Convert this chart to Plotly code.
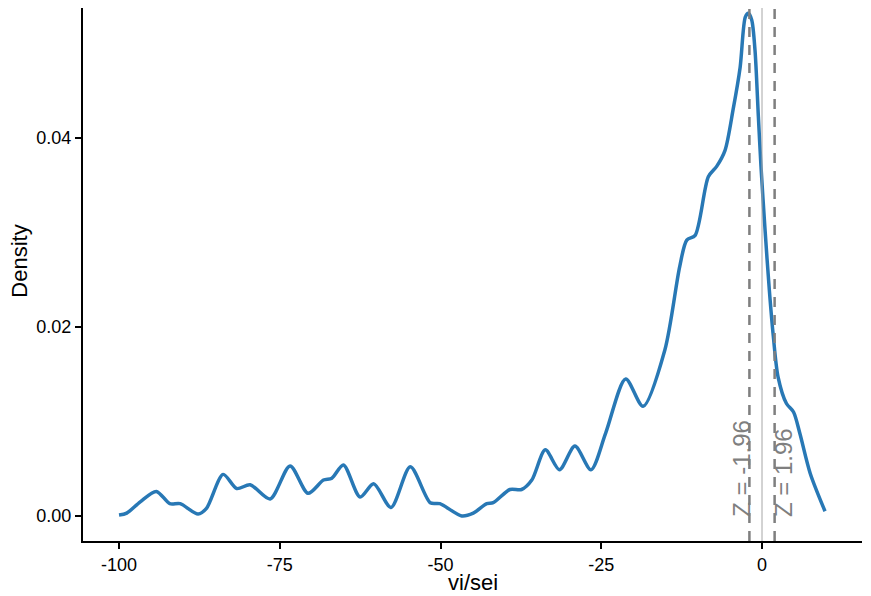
import plotly.graph_objects as go

# density curve of vi/sei
vi_sei = [-100, -98.8, -96.7, -94.2, -92.1, -90.5, -87.7, -86.4, -83.8, -81.7,
          -79.6, -76.5, -73.4, -70.6, -68.2, -66.9, -65.1, -62.5, -60.4, -57.7,
          -54.7, -51.6, -50.1, -46.7, -44.9, -42.8, -41.8, -39.2, -37.4, -35.8,
          -33.7, -31.5, -29.1, -26.6, -24.3, -21.2, -18.5, -15.1, -12.8, -11.7,
          -10.4, -8.35, -7.05, -5.75, -4.5, -3.4, -2.6, -2.13, -1.6, -1.09,
          -0.57, -0.16, 0.47, 1.14, 1.76, 2.5, 3.8, 4.9, 5.9, 7.5, 9.8]
density = [0.0001, 0.0003, 0.0015, 0.0026, 0.0013, 0.0013, 0.0002, 0.0008, 0.0044, 0.0029,
           0.0033, 0.0018, 0.0053, 0.0024, 0.0038, 0.0040, 0.0054, 0.0020, 0.0034, 0.0009,
           0.0052, 0.0014, 0.0013, 0.0000, 0.0003, 0.0013, 0.0014, 0.0028, 0.0028, 0.0038,
           0.0070, 0.0049, 0.0074, 0.0049, 0.0088, 0.0145, 0.0116, 0.0176, 0.0264, 0.0292,
           0.0297, 0.0359, 0.0370, 0.0387, 0.0430, 0.0475, 0.0528, 0.0532, 0.0525, 0.0493,
           0.0423, 0.0370, 0.0303, 0.0239, 0.0190, 0.0147, 0.0119, 0.0110, 0.0087, 0.0045, 0.0005]

z_lines = [-1.96, 1.96]
z_labels = ['Z = -1.96', 'Z = 1.96']

x_ticks = [-100, -75, -50, -25, 0]
x_tick_text = ['-100', '-75', '-50', '-25', '0']
y_ticks = [0.0, 0.02, 0.04]
y_tick_text = ['0.00', '0.02', '0.04']

font_family = 'Liberation Sans, Arial, sans-serif'

fig = go.Figure()
fig.add_trace(go.Scatter(x=vi_sei, y=density, mode='lines',
                         line=dict(color='#2878B5', width=3.5, shape='spline', smoothing=0.8),
                         showlegend=False, hoverinfo='skip'))

# reference lines
fig.add_shape(type='line', x0=0, x1=0, y0=0, y1=1, yref='paper',
              line=dict(color='#a6a6a6', width=1))
for zl in z_lines:
    fig.add_shape(type='line', x0=zl, x1=zl, y0=0, y1=1, yref='paper',
                  line=dict(color='#7f7f7f', width=2.5, dash='10px,8px'))

shifts = [-8, 9]
for zl, lab, sh in zip(z_lines, z_labels, shifts):
    fig.add_annotation(x=zl, y=0, text=lab, textangle=-90, showarrow=False,
                       xanchor='center', yanchor='bottom', xshift=sh, yshift=-3,
                       font=dict(family=font_family, size=24, color='#7f7f7f'))

# axis titles
fig.add_annotation(x=0.5, y=-0.078, xref='paper', yref='paper', text='vi/sei',
                   showarrow=False, xanchor='center', yanchor='middle',
                   font=dict(family=font_family, size=22, color='black'))
fig.add_annotation(x=-0.0815, y=0.525, xref='paper', yref='paper', text='Density',
                   textangle=-90, showarrow=False, xanchor='center', yanchor='middle',
                   font=dict(family=font_family, size=22, color='black'))

# page body has an 8px margin, so the figure is 8px smaller than the window
fig.update_layout(
    width=863, height=588,
    margin=dict(l=75, r=9, t=0, b=55),
    plot_bgcolor='white', paper_bgcolor='white',
    font=dict(family=font_family, color='black'),
    xaxis=dict(range=[-105.6, 15.55], tickvals=x_ticks, ticktext=x_tick_text,
               ticks='outside', ticklen=6, tickwidth=1.5, tickcolor='black',
               showline=True, linecolor='black', linewidth=2, showgrid=False,
               zeroline=False, automargin=False,
               tickfont=dict(size=18, color='black')),
    yaxis=dict(range=[-0.00265, 0.05376], tickvals=y_ticks, ticktext=y_tick_text,
               ticks='outside', ticklen=6, tickwidth=1.5, tickcolor='black',
               showline=True, linecolor='black', linewidth=2, showgrid=False,
               zeroline=False, automargin=False,
               tickfont=dict(size=18, color='black')),
)

fig.write_html("out.html")
